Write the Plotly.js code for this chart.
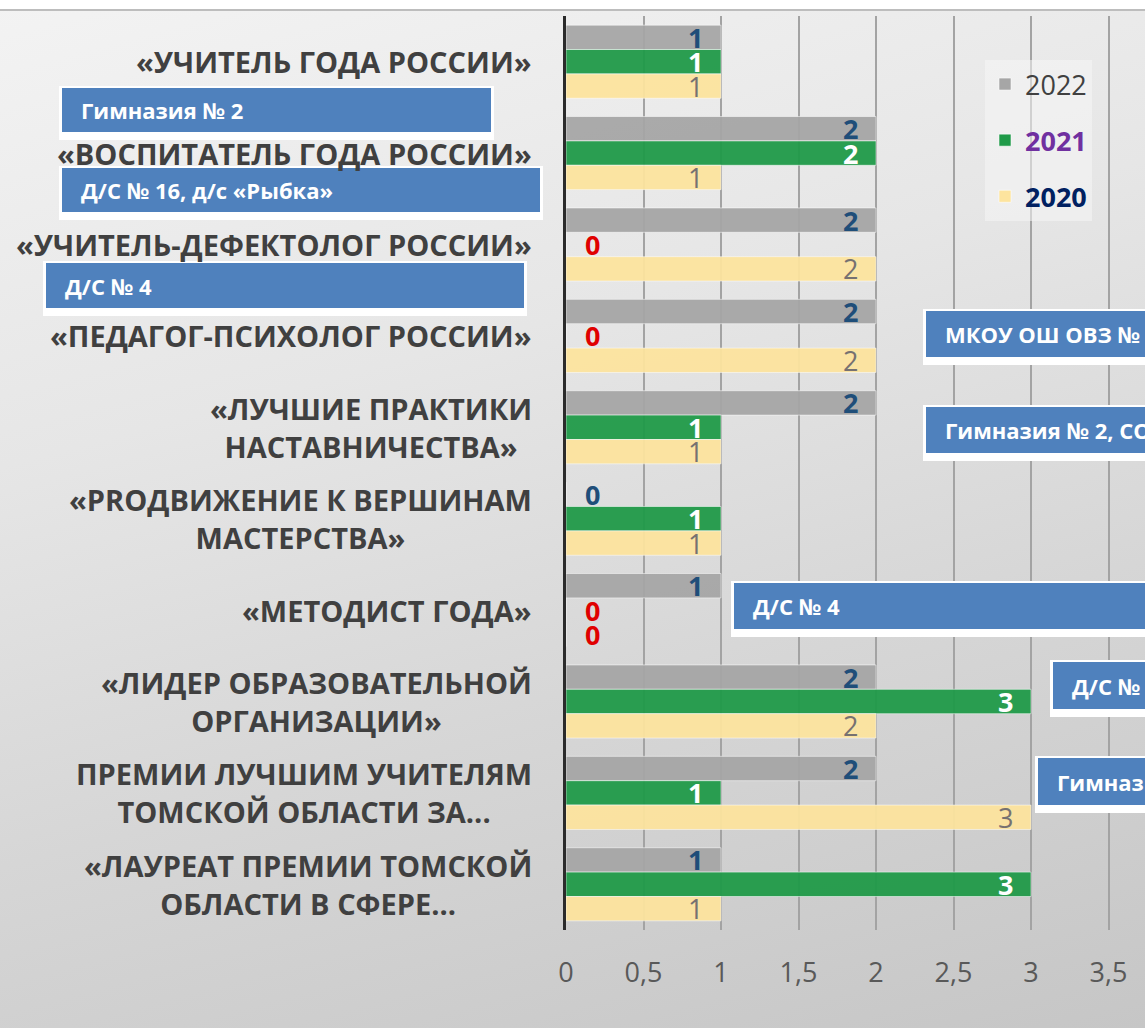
<!DOCTYPE html>
<html>
<head>
<meta charset="utf-8">
<script src="https://cdn.plot.ly/plotly-3.0.1.min.js"></script>
<style>
  html, body { margin: 0; padding: 0; }
  body {
    width: 1145px; height: 1028px; overflow: hidden;
    background:
      linear-gradient(to bottom, #ffffff 0px, #ffffff 9px, #bdbdbd 9px, #bdbdbd 11px, rgba(0,0,0,0) 11px),
      linear-gradient(165deg, #f3f3f3 0%, #e6e6e6 35%, #d6d6d6 65%, #c6c6c6 100%);
  }
  #chart { width: 1145px; height: 1028px; }
</style>
</head>
<body>
<div id="chart"></div>
<script>
// ---- data ----
const categories = [
  "«УЧИТЕЛЬ ГОДА РОССИИ»",
  "«ВОСПИТАТЕЛЬ ГОДА РОССИИ»",
  "«УЧИТЕЛЬ-ДЕФЕКТОЛОГ РОССИИ»",
  "«ПЕДАГОГ-ПСИХОЛОГ РОССИИ»",
  "«ЛУЧШИЕ ПРАКТИКИ<br>НАСТАВНИЧЕСТВА»",
  "«PRОДВИЖЕНИЕ К ВЕРШИНАМ<br>МАСТЕРСТВА»",
  "«МЕТОДИСТ ГОДА»",
  "«ЛИДЕР ОБРАЗОВАТЕЛЬНОЙ<br>ОРГАНИЗАЦИИ»",
  "ПРЕМИИ ЛУЧШИМ УЧИТЕЛЯМ<br>ТОМСКОЙ ОБЛАСТИ ЗА...",
  "«ЛАУРЕАТ ПРЕМИИ ТОМСКОЙ<br>ОБЛАСТИ В СФЕРЕ..."
];
const years = ["2022", "2021", "2020"];
const values2022 = [1, 2, 2, 2, 2, 0, 1, 2, 2, 1];
const values2021 = [1, 2, 0, 0, 1, 1, 0, 3, 1, 3];
const values2020 = [1, 1, 2, 2, 1, 1, 0, 2, 3, 1];
const xTickValues = [0, 0.5, 1, 1.5, 2, 2.5, 3, 3.5];
const boxTexts = [
  "Гимназия № 2",
  "Д/С № 16, д/с «Рыбка»",
  "Д/С № 4",
  "МКОУ ОШ ОВЗ №",
  "Гимназия № 2, СОШ",
  "Д/С № 4",
  "Д/С №",
  "Гимназия"
];

// ---- styles ----
const seriesValues = [values2022, values2021, values2020];
const barColors = ["#a6a6a6", "#1f9a48", "#fde49e"];
const labelColors = ["#1f4e79", "#ffffff", "#767171"];
const zeroColors = ["#1f4e79", "#e00000", "#e00000"];
const labelWeights = ["bold", "bold", "normal"];
const legendNames = [
  '<span style="color:#404040">2022</span>',
  '<b><span style="color:#7030a0">2021</span></b>',
  '<b><span style="color:#002060">2020</span></b>'
];
const FONT = "Open Sans, Noto Sans, sans-serif";

// plot geometry (px)
const W = 1145, H = 1028;
const ML = 566, MR = 0, MT = 16, MB = 98;
const PW = W - ML - MR, PH = H - MT - MB;
const px2x = p => (p - ML) / PW;
const px2y = p => 1 - (p - MT) / PH;

const traces = years.map((yr, s) => ({
  type: "bar",
  orientation: "h",
  name: legendNames[s],
  x: seriesValues[s],
  y: categories,
  marker: { color: barColors[s], opacity: 0.94, line: { color: "rgba(255,255,255,0.55)", width: 1 } },
  legendgroup: yr,
  hoverinfo: "x+name"
}));

const annotations = [];
// category labels (centered multi-line)
categories.forEach((c, i) => {
  annotations.push({
    xref: "paper", yref: "y", x: 0, y: i,
    xanchor: "right", yanchor: "middle", xshift: -32,
    text: c, showarrow: false, align: "center",
    font: { family: FONT, size: 29, color: "#404040", weight: "bold" }
  });
});
// data labels
const offsets = [-0.267, 0, 0.267];
seriesValues.forEach((vals, s) => {
  vals.forEach((v, i) => {
    annotations.push({
      xref: "x", yref: "y", x: v, y: i + offsets[s],
      xanchor: "center", yanchor: "middle",
      xshift: v > 0 ? -26 : 26, yshift: 0,
      text: String(v), showarrow: false,
      font: { family: FONT, size: 27, color: v > 0 ? labelColors[s] : zeroColors[s], weight: v > 0 ? labelWeights[s] : "bold" }
    });
  });
});

// overlay callout boxes (pixel positions)
const boxRects = [
  [62, 88, 491, 132],
  [62, 168, 540, 212],
  [46, 263, 524, 308],
  [926, 311, 1200, 357],
  [926, 407, 1200, 453],
  [734, 583, 1200, 629],
  [1053, 662, 1200, 709],
  [1038, 758, 1200, 805]
];
const shapes = [];
boxRects.forEach((r, k) => {
  shapes.push({
    type: "rect", xref: "paper", yref: "paper", layer: "above",
    x0: px2x(r[0] - 3), x1: px2x(r[2] + 3), y0: px2y(r[3] + 8), y1: px2y(r[1] - 2),
    fillcolor: "#ffffff", line: { width: 0 }
  });
  shapes.push({
    type: "rect", xref: "paper", yref: "paper", layer: "above",
    x0: px2x(r[0]), x1: px2x(r[2]), y0: px2y(r[3]), y1: px2y(r[1]),
    fillcolor: "#4f81bd", line: { width: 0 }
  });
  annotations.push({
    xref: "paper", yref: "paper",
    x: px2x(r[0] + 17), y: px2y((r[1] + r[3]) / 2),
    xanchor: "left", yanchor: "middle",
    text: boxTexts[k], showarrow: false, align: "left",
    font: { family: FONT, size: 22, color: "#ffffff", weight: "bold" }
  });
});

const layout = {
  width: W, height: H,
  margin: { l: ML, r: MR, t: MT, b: MB, pad: 0 },
  paper_bgcolor: "rgba(0,0,0,0)",
  plot_bgcolor: "rgba(0,0,0,0)",
  separators: ", ",
  barmode: "group",
  bargap: 0.2,
  bargroupgap: 0,
  font: { family: FONT },
  showlegend: true,
  legend: {
    x: px2x(985), y: px2y(60), xanchor: "left", yanchor: "top",
    bgcolor: "rgba(246,246,246,0.55)",
    font: { family: FONT, size: 27, color: "#404040" },
    traceorder: "grouped",
    tracegroupgap: 18,
    itemwidth: 30
  },
  xaxis: {
    range: [0, PW / 155],
    tickvals: xTickValues,
    tickformat: ",.1~f",
    showgrid: true, gridcolor: "#a3a3a3", gridwidth: 2,
    zeroline: false, showline: false,
    ticks: "",
    ticklabelstandoff: 24,
    tickfont: { family: FONT, size: 27, color: "#595959" },
    fixedrange: true
  },
  yaxis: {
    type: "category",
    autorange: "reversed",
    showticklabels: false,
    showgrid: false, zeroline: false,
    showline: true, linecolor: "#2b2b2b", linewidth: 3,
    ticks: "",
    fixedrange: true
  },
  shapes: shapes,
  annotations: annotations
};

Plotly.newPlot("chart", traces, layout, { displayModeBar: false, staticPlot: true });
</script>
</body>
</html>
